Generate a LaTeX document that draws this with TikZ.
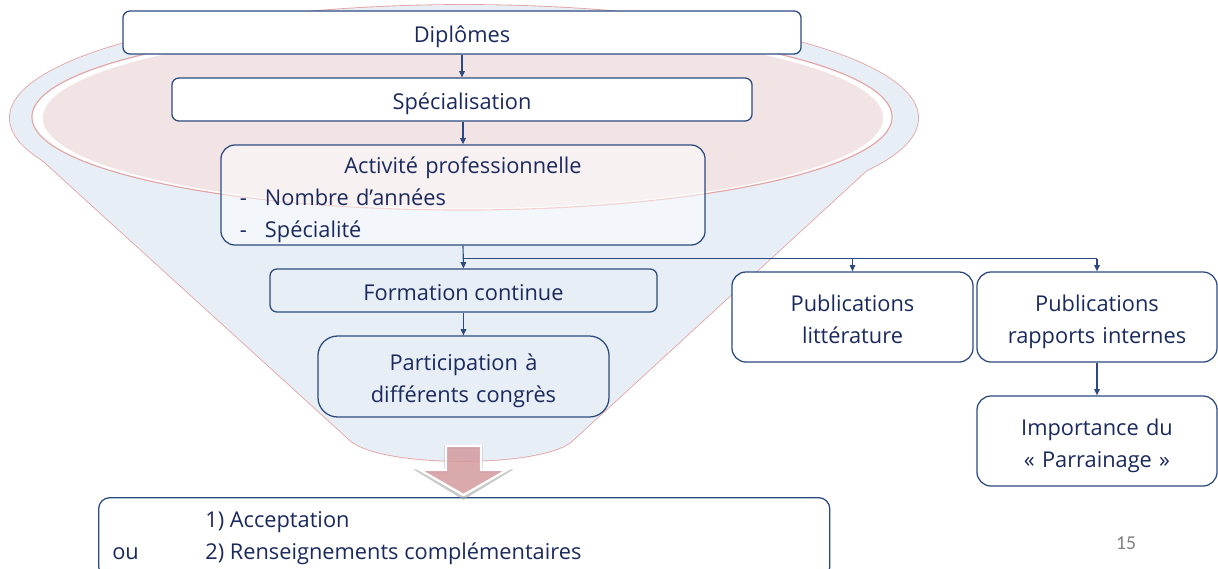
\documentclass[tikz,border=0pt]{standalone}
\usepackage{fontspec}
\setmainfont{Open Sans}
\newfontfamily\calib{Carlito}
\usetikzlibrary{arrows.meta,calc}
\definecolor{navy}{HTML}{2C4A80}
\definecolor{txtc}{HTML}{1B2A5E}
\definecolor{funblue}{HTML}{E8EEF5}
\definecolor{funred}{HTML}{E3A3A3}
\definecolor{funpink}{HTML}{F2E4E4}
\definecolor{arrred}{HTML}{D49A9E}
\tikzset{
  box/.style={draw=navy, line width=0.9pt, rounded corners=#1, text=txtc,
    font=\fontsize{15.5}{22.8}\selectfont, align=center, inner sep=0pt},
  box/.default=5pt,
  oneline/.style={text height=16.4pt, text depth=2pt},
  twolines/.style={text width=#1, text height=17.5pt, text depth=25.8pt},
  restext/.style={anchor=base west, text=txtc, font=\fontsize{15.5}{18}\selectfont, inner sep=0pt},
  conn/.style={draw=navy, line width=0.8pt, -{Triangle[length=4.5pt,width=4pt]}},
  plain/.style={draw=navy, line width=0.8pt},
}
\begin{document}
\begin{tikzpicture}[x=0.025cm,y=-0.025cm]
\useasboundingbox (0,0) rectangle (1218,568);
\clip (0,0) rectangle (1218,568);
% funnel
\draw[funred, line width=1.2pt] (464,118) ellipse [x radius=11.35cm, y radius=2.825cm];
\draw[funred, line width=1.2pt] (17,137) -- (350,440) .. controls (380,468) and (545,468) .. (573,440) -- (905,135);
\fill[funblue] (464,118) ellipse [x radius=11.35cm, y radius=2.825cm];
\fill[funblue] (17,137) -- (350,440) .. controls (380,468) and (545,468) .. (573,440) -- (905,135) -- (464,118) -- cycle;
\filldraw[fill=white, draw=funred, line width=0.8pt] (462,117) ellipse [x radius=10.75cm, y radius=2.325cm];
\fill[funpink] (463,118) ellipse [x radius=10.5cm, y radius=2.26cm];
% boxes
\node[box, oneline, fill=white, minimum width=16.95cm, minimum height=1.075cm] (dip) at (462,32.5) {Diplômes};
\node[box, oneline, fill=white, minimum width=14.5cm, minimum height=1.075cm] (spe) at (462,99.5) {Spécialisation};
\node[box=10pt, fill=white, fill opacity=0.5, text opacity=1, minimum width=12.1cm, minimum height=2.5cm,
      align=left, text width=11.15cm, text height=17.5pt, text depth=48.7pt] (act) at (463,195)
  {\makebox[\linewidth][c]{Activité professionnelle}\\
   \makebox[0.625cm][l]{-}Nombre d’années\\
   \makebox[0.625cm][l]{-}Spécialité};
\node[box, oneline, minimum width=9.675cm, minimum height=1.075cm] (form) at (463.5,290.5) {Formation continue};
\node[box=14pt, twolines=7cm, minimum width=7.275cm, minimum height=2.025cm] (part) at (463.5,376.5) {Participation à\\différents congrès};
\node[box=10pt, twolines=5.8cm, fill=white, minimum width=6.025cm, minimum height=2.25cm] (publ) at (852.5,317) {Publications\\littérature};
\node[box=10pt, twolines=5.8cm, fill=white, minimum width=6cm, minimum height=2.25cm] (pubr) at (1097,317) {Publications\\rapports internes};
\node[box=10pt, twolines=5.8cm, fill=white, minimum width=6cm, minimum height=2.25cm] (imp) at (1097,441) {Importance du\\« Parrainage »};
% connectors
\draw[conn] (dip.south -| spe.north) -- (spe.north);
\draw[conn] (spe.south -| act.north) -- (act.north);
\coordinate (br) at ($(act.south)+(0,13)$);
\draw[conn] (act.south) -- (form.north);
\draw[plain] (br) -- (br -| pubr.north);
\draw[conn] (br -| publ.north) -- (publ.north);
\draw[conn] (br -| pubr.north) -- (pubr.north);
\draw[conn] (form.south) -- (part.north);
\draw[conn] (pubr.south) -- (imp.north);
% result box
\node[box=8pt, anchor=north west, minimum width=18.275cm, minimum height=2.0cm, fill=white] (res) at (98,497) {};
% big arrow
\draw[black!35, line width=2.2pt, line join=miter, opacity=0.6] (446,447) -- (481,447) -- (481,471) -- (508,471) -- (463.5,498) -- (419,471) -- (446,471) -- cycle;
\filldraw[draw=white, line width=1.6pt, fill=arrred, fill opacity=0.85, line join=miter] (446,446) -- (481,446) -- (481,470) -- (507,470) -- (463.5,495) -- (420,470) -- (446,470) -- cycle;
\node[restext] (r1) at (205,527) {1) Acceptation};
\node[restext] (r0) at (112,559) {ou};
\node[restext] (r2) at (205,559) {2) Renseignements complémentaires};
\node[text=black!50, font=\calib\fontsize{14}{16}\selectfont, inner sep=0pt] (pg) at (1126,543) {15};
\end{tikzpicture}
\end{document}
